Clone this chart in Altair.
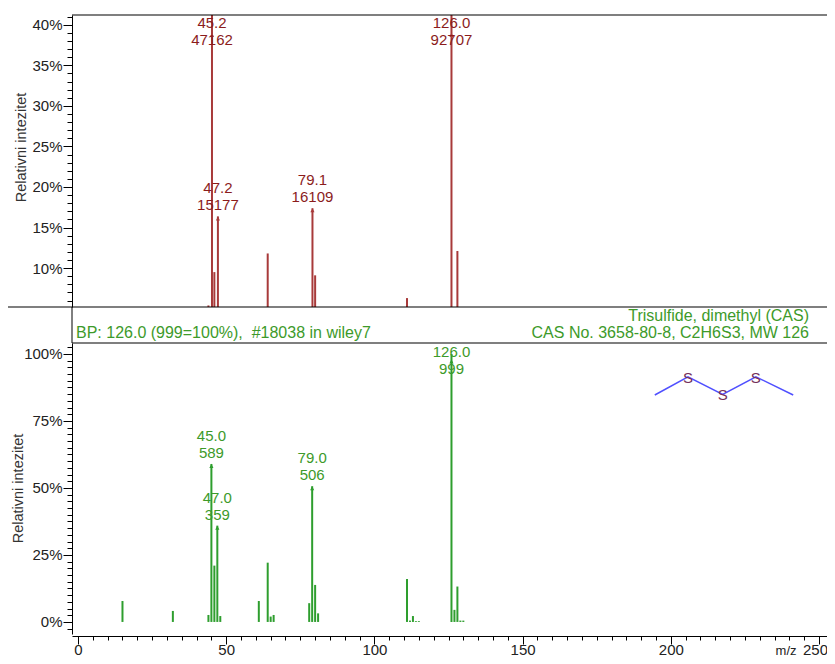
import altair as alt
import pandas as pd

# measured spectrum (upper panel): m/z and raw abundance
sample_mz = [44.0, 45.2, 46.0, 47.2, 64.0, 79.1, 80.0, 111.0, 126.0, 128.0]
sample_abund = [5000, 47162, 8810, 15177, 10940, 16109, 8440, 5840, 92707, 11220]
sample_labeled = [45.2, 47.2, 79.1, 126.0]

# library hit (lower panel), abundances scaled to 999
lib_mz = [15, 32, 44, 45, 46, 47, 48, 61, 64, 65, 66, 78, 79, 80, 81,
          111, 112, 113, 114, 115, 126, 127, 128, 129, 130]
lib_abund = [78, 41, 26, 589, 210, 359, 22, 78, 221, 20, 26, 70, 506, 138, 32,
             160, 5, 22, 3, 3, 999, 45, 132, 5, 5]
lib_labeled = [45, 47, 79, 126]

# CH3-S-S-S-CH3 sketch drawn inside the lower panel (m/z, %)
mol_mz = [194.6, 205.8, 217.5, 228.7, 241.3]
mol_pct = [84.7, 91.5, 84.9, 91.5, 84.7]
mol_atom = ["", "S", "S", "S", ""]

x_ticks = list(range(0, 256, 5))
top_ticks = list(range(6, 42))
bottom_ticks = [i * 2.5 for i in range(-1, 42)]

FONT = "Liberation Sans"
W, H = 755, 619
TOP_H = 292
BOT_TOP = 328

RED_LINE, RED_TEXT = "#a83a3a", "#8b1c1c"
GREEN_LINE, GREEN_TEXT = "#2e9e2e", "#3d9a2a"
ARROW = "M0,0L-0.75,1.5L0.75,1.5Z"


def spectrum_frame(mz, abund, labeled):
    df = pd.DataFrame({"mz": mz, "abund": abund})
    df["rel"] = df["abund"] / max(abund) * 100
    df["labeled"] = df["mz"].isin(labeled)
    return df


x_scale = alt.Scale(domain=[-2.03, 252.7], nice=False, zero=False)
x_axis = alt.Axis(
    values=x_ticks,
    labelExpr="datum.value % 50 === 0 ? datum.label : ''",
    tickSize={"condition": {"test": "datum.value % 50 === 0", "value": 8}, "value": 4},
    labelOffset={"condition": {"test": "datum.value === 250", "value": -4}, "value": 0},
    offset=2,
    labelFont=FONT, labelFontSize=15, labelColor="#222", labelPadding=-2,
    domainColor="black", tickColor="black",
    title="m/z", titleFont=FONT, titleFontSize=13, titleFontWeight="normal",
    titleColor="#222", titleX=724, titleY=14, titleAlign="right",
    titleBaseline="middle",
)


def xenc(field="mz"):
    return alt.X(f"{field}:Q", scale=x_scale, axis=x_axis)


def y_axis(ticks, step, title_x, title_y):
    return alt.Axis(
        orient="left",
        values=ticks,
        labelExpr=f"datum.value % {step} === 0 ? datum.value + '%' : ''",
        tickSize={"condition": {"test": f"datum.value % {step} === 0", "value": 9}, "value": 5},
        labelFont=FONT, labelFontSize=15, labelColor="#222", labelPadding=1,
        domainColor="black", tickColor="black",
        title="Relativni intezitet", titleFont=FONT, titleFontSize=14.5,
        titleFontWeight="normal", titleColor="#333",
        titleX=title_x, titleY=title_y,
    )


def panel(df, yscale, yaxis, line_color, text_color, arrow_cap, label_cap, extra=()):
    def yenc(field):
        return alt.Y(f"{field}:Q", scale=yscale, axis=yaxis)

    base = alt.Chart(df)
    sticks = base.mark_rule(color=line_color, strokeWidth=2).encode(
        x=xenc(), y=yenc("rel"), y2=alt.datum(0)
    )
    flagged = base.transform_filter("datum.labeled").transform_calculate(
        tip=f"min(datum.rel, {arrow_cap})",
        anchor=f"min(datum.rel, {label_cap})",
        mz_txt="format(datum.mz, '.1f')",
        ab_txt="format(datum.abund, 'd')",
    )
    arrows = flagged.mark_point(
        shape=ARROW, filled=True, size=30, color=line_color, opacity=1
    ).encode(x=xenc(), y=yenc("tip"))
    txt = dict(font=FONT, fontSize=15, color=text_color)
    mz_lab = flagged.mark_text(dy=-28, **txt).encode(
        x=xenc(), y=yenc("anchor"), text="mz_txt:N"
    )
    ab_lab = flagged.mark_text(dy=-11, **txt).encode(
        x=xenc(), y=yenc("anchor"), text="ab_txt:N"
    )
    layers = [sticks, arrows, mz_lab, ab_lab]
    for make in extra:
        layers.append(make(yenc))
    return alt.layer(*layers)


sample_df = spectrum_frame(sample_mz, sample_abund, sample_labeled)
lib_df = spectrum_frame(lib_mz, lib_abund, lib_labeled)
mol_df = pd.DataFrame({"mz": mol_mz, "rel": mol_pct, "atom": mol_atom,
                       "order": list(range(len(mol_mz)))})


def mol_bonds(yenc):
    return alt.Chart(mol_df).mark_line(color="#5050ff", strokeWidth=1.5).encode(
        x=xenc(), y=yenc("rel"), order="order:Q"
    )


def mol_atoms(yenc):
    return alt.Chart(mol_df).mark_text(
        font=FONT, fontSize=15, color="#74305a", dy=1
    ).encode(x=xenc(), y=yenc("rel"), text="atom:N")


top = panel(
    sample_df,
    alt.Scale(domain=[5.2, 41.2], range=[TOP_H, 0], nice=False, zero=False, clamp=True),
    y_axis(top_ticks, 5, -44, 132),
    RED_LINE, RED_TEXT, 39.0, 36.8,
)
bottom = panel(
    lib_df,
    alt.Scale(domain=[-4.5, 104.1], range=[H, BOT_TOP], nice=False, zero=False),
    y_axis(bottom_ticks, 25, -47, 473),
    GREEN_LINE, GREEN_TEXT, 98.0, 90.3,
    extra=(mol_bonds, mol_atoms),
)

one = pd.DataFrame({"k": [0]})


def hline(y, x0, x1):
    return alt.Chart(one).mark_rule(color="black", strokeWidth=1.2).encode(
        x=alt.value(x0), x2=alt.value(x1), y=alt.value(y)
    )


def vline(x, y0, y1):
    return alt.Chart(one).mark_rule(color="black", strokeWidth=1).encode(
        x=alt.value(x), y=alt.value(y0), y2=alt.value(y1)
    )


def header(text, x, y, align):
    return alt.Chart(one).mark_text(
        text=text, font=FONT, fontSize=16, color=GREEN_TEXT,
        align=align, baseline="middle"
    ).encode(x=alt.value(x), y=alt.value(y))


frame = [
    hline(0, 0, W),
    hline(TOP_H, -64, W),
    hline(BOT_TOP, 0, W),
    vline(0, TOP_H, BOT_TOP),
    header("Trisulfide, dimethyl (CAS)", 737, 301, "right"),
    header("CAS No. 3658-80-8, C2H6S3, MW 126", 737, 318, "right"),
    header("BP: 126.0 (999=100%),\u00a0 #18038 in wiley7", 4, 318, "left"),
]

chart = alt.layer(top, bottom, *frame).resolve_scale(
    y="independent"
).properties(
    width=W,
    height=H,
    autosize=alt.AutoSizeParams(type="none"),
    padding={"left": 64, "top": 7, "right": 0, "bottom": 22},
).configure_view(
    stroke=None
).configure_axis(
    grid=False
)

chart.save("out.html", embed_options={"renderer": "svg", "actions": False})
